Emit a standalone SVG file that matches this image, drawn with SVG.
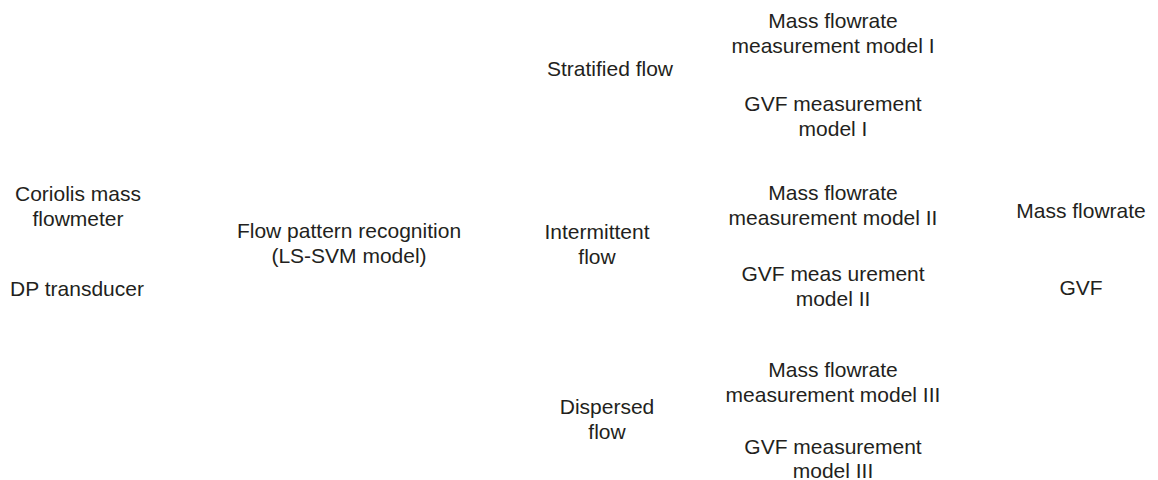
<svg xmlns="http://www.w3.org/2000/svg" width="1158" height="480" viewBox="0 0 1158 480">
<style>
text{font-family:"Liberation Sans",Arial,sans-serif;font-size:21px;fill:#231f20;text-anchor:middle}
</style>
<rect width="1158" height="480" fill="#fff"/>
<g id="connectors"></g>
<g id="coriolis"><text x="78" y="201">Coriolis mass</text><text x="78" y="226">flowmeter</text></g>
<g id="dp"><text x="77" y="296">DP transducer</text></g>
<g id="recognition"><text x="349" y="238">Flow pattern recognition</text><text x="349" y="263">(LS-SVM model)</text></g>
<g id="stratified"><text x="610" y="76">Stratified flow</text></g>
<g id="intermittent"><text x="597" y="239">Intermittent</text><text x="597" y="264">flow</text></g>
<g id="dispersed"><text x="607" y="414">Dispersed</text><text x="607" y="439">flow</text></g>
<g id="mass1"><text x="833" y="28">Mass flowrate</text><text x="833" y="53">measurement model I</text></g>
<g id="gvf1"><text x="833" y="111">GVF measurement</text><text x="833" y="136">model I</text></g>
<g id="mass2"><text x="833" y="200">Mass flowrate</text><text x="833" y="225">measurement model II</text></g>
<g id="gvf2"><text x="833" y="281">GVF meas urement</text><text x="833" y="306">model II</text></g>
<g id="mass3"><text x="833" y="377">Mass flowrate</text><text x="833" y="402">measurement model III</text></g>
<g id="gvf3"><text x="833" y="454">GVF measurement</text><text x="833" y="478">model III</text></g>
<g id="massout"><text x="1081" y="218">Mass flowrate</text></g>
<g id="gvfout"><text x="1081" y="295">GVF</text></g>
</svg>
